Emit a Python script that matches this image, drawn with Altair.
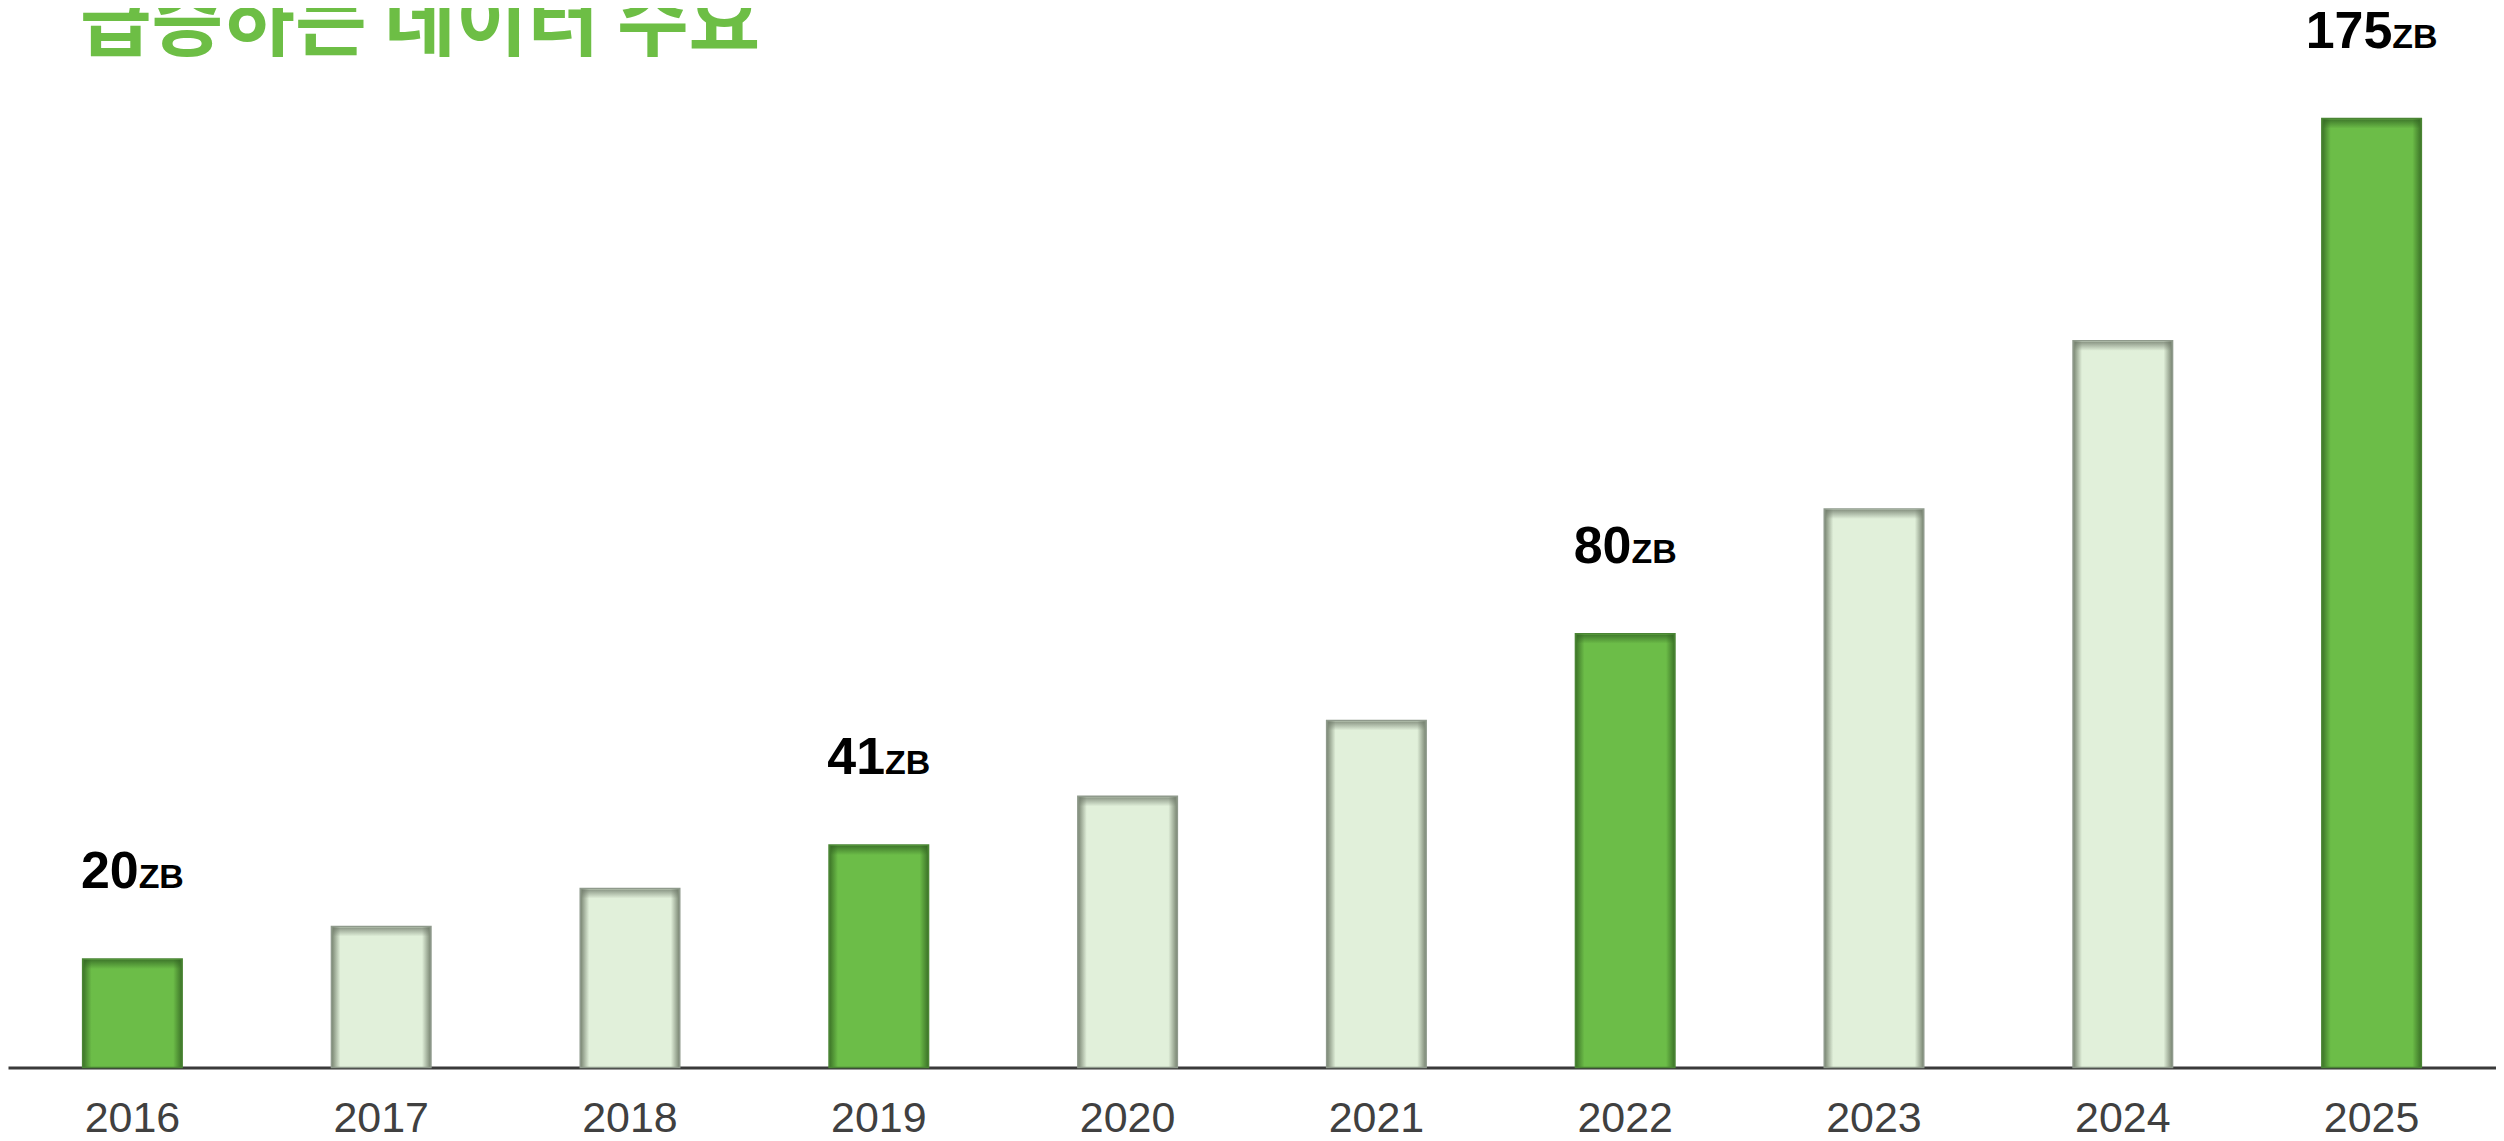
import altair as alt
import pandas as pd

years = ["2016", "2017", "2018", "2019", "2020", "2021", "2022", "2023", "2024", "2025"]
values = [20, 26, 33, 41, 50, 64, 80, 103, 134, 175]
highlight = [True, False, False, True, False, False, True, False, False, True]
unit = "ZB"
title_text = "급증하는 데이터 수요"

df = pd.DataFrame({"year": years, "value": values, "hl": highlight})

W = 2491
STEP = W / 10.0
BW = STEP * 0.4

x = alt.X(
    "year:N",
    sort=years,
    scale=alt.Scale(paddingInner=0.6, paddingOuter=0.3),
    axis=alt.Axis(
        title=None, ticks=False, grid=False, labelAngle=0,
        labelFont="Liberation Sans", labelFontSize=43, labelColor="#404040",
        labelPadding=30, domainColor="#3a3a3a", domainWidth=3,
    ),
)
y = alt.Y("value:Q", scale=alt.Scale(domain=[0, 175], nice=False, zero=True), axis=None)


def hgrad(edge, mid):
    return alt.Gradient(
        gradient="linear", x1=0, x2=1, y1=0, y2=0,
        stops=[
            alt.GradientStop(offset=0, color=edge),
            alt.GradientStop(offset=0.09, color=mid),
            alt.GradientStop(offset=0.91, color=mid),
            alt.GradientStop(offset=1, color=edge),
        ],
    )


def vgrad(rgb):
    return alt.Gradient(
        gradient="linear", x1=0, x2=0, y1=0, y2=1,
        stops=[
            alt.GradientStop(offset=0, color=f"rgba({rgb},0.75)"),
            alt.GradientStop(offset=1, color=f"rgba({rgb},0)"),
        ],
    )


base = alt.Chart(df)

bars_dark = base.transform_filter("datum.hl").mark_bar(
    fill=hgrad("#3b7227", "#6cbd48"), stroke="#4a8534", strokeWidth=1.5
).encode(x=x, y=y)

bars_light = base.transform_filter("!datum.hl").mark_bar(
    fill=hgrad("#76826f", "#e1f0da"), stroke="#8f9a8c", strokeWidth=1.5
).encode(x=x, y=y)

top_dark = base.transform_filter("datum.hl").mark_tick(
    size=BW - 3, thickness=9, yOffset=5.5, fill=vgrad("50,100,35"), opacity=1
).encode(x=x, y=y)

top_light = base.transform_filter("!datum.hl").mark_tick(
    size=BW - 3, thickness=9, yOffset=5.5, fill=vgrad("110,120,105"), opacity=1
).encode(x=x, y=y)

lbl_base = base.transform_filter("datum.hl").transform_calculate(
    lbl="toString(datum.value)",
    off=f"{BW / 2} + (length(toString(datum.value))*0.556*52 - 1.333*34)/2",
)

num = lbl_base.mark_text(
    align="right", baseline="alphabetic", dy=-71,
    font="Liberation Sans", fontSize=52, fontWeight="bold", color="#000000",
).encode(x=x, y=y, xOffset=alt.XOffset("off:Q", scale=None), text="lbl:N")

zb = lbl_base.mark_text(
    align="left", baseline="alphabetic", dy=-71,
    font="Liberation Sans", fontSize=34, fontWeight="bold", color="#000000",
).encode(x=x, y=y, xOffset=alt.XOffset("off:Q", scale=None), text=alt.value(unit))

title = alt.Chart(pd.DataFrame({"t": [title_text]})).mark_text(
    align="left", baseline="alphabetic",
    font="Noto Sans CJK KR", fontSize=78, fontWeight="bold", color="#6dbe45",
).encode(x=alt.value(72), y=alt.value(-69), text="t:N")

chart = alt.layer(bars_light, bars_dark, top_light, top_dark, num, zb, title).properties(
    width=W,
    height=950,
    autosize=alt.AutoSizeParams(type="none"),
    padding={"left": 0, "right": 0, "top": 110, "bottom": 73},
    background="white",
).configure_view(stroke=None)

chart.save("out.html", embed_options={"renderer": "svg", "actions": False})
